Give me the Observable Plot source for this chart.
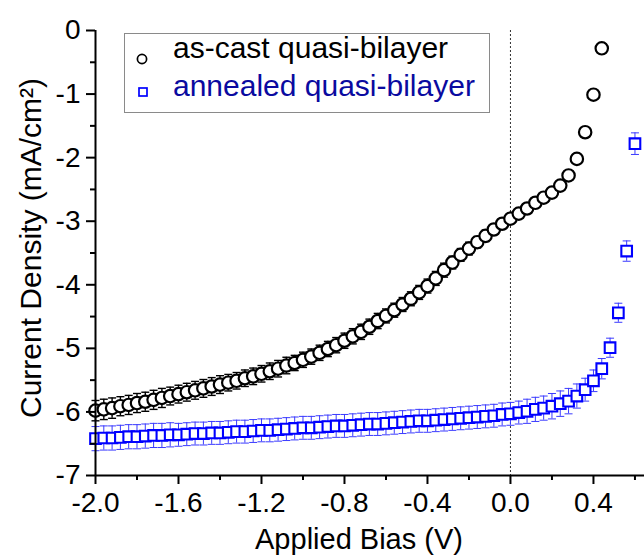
<!DOCTYPE html>
<html><head><meta charset="utf-8">
<script src="https://cdn.jsdelivr.net/npm/d3@7"></script>
<script src="https://cdn.jsdelivr.net/npm/@observablehq/plot@0.6"></script>
<style>
html,body{margin:0;padding:0;background:#fff;}
#wrap{position:relative;width:644px;height:556px;overflow:hidden;background:#fff;}
#wrap > svg{display:block;}
#legend{position:absolute;left:0;top:0;pointer-events:none;}
</style></head><body><div id="wrap"></div>
<script>
// ---- data ----
const seriesNames = ["as-cast quasi-bilayer", "annealed quasi-bilayer"];
const xTitle = "Applied Bias (V)";
const yTitle = "Current Density (mA/cm²)";

const xTicks = [-2.0, -1.6, -1.2, -0.8, -0.4, 0.0, 0.4];
const xMinorTicks = [-1.8, -1.4, -1.0, -0.6, -0.2, 0.2, 0.6];
const yTicks = [0, -1, -2, -3, -4, -5, -6, -7];
const yMinorTicks = [-0.5, -1.5, -2.5, -3.5, -4.5, -5.5, -6.5];
const xDomain = [-2.0, 0.646];
const yDomain = [-7, 0];

const asCastBias = [-2.00,-1.96,-1.92,-1.88,-1.84,-1.80,-1.76,-1.72,-1.68,-1.64,-1.60,-1.56,-1.52,-1.48,-1.44,-1.40,-1.36,-1.32,-1.28,-1.24,-1.20,-1.16,-1.12,-1.08,-1.04,-1.00,-0.96,-0.92,-0.88,-0.84,-0.80,-0.76,-0.72,-0.68,-0.64,-0.60,-0.56,-0.52,-0.48,-0.44,-0.40,-0.36,-0.32,-0.28,-0.24,-0.20,-0.16,-0.12,-0.08,-0.04,0.00,0.04,0.08,0.12,0.16,0.20,0.24,0.28,0.32,0.36,0.40,0.44];
const asCastJ = [-5.98,-5.96,-5.94,-5.91,-5.89,-5.86,-5.84,-5.81,-5.78,-5.75,-5.72,-5.69,-5.66,-5.63,-5.60,-5.57,-5.54,-5.51,-5.47,-5.44,-5.40,-5.36,-5.32,-5.27,-5.23,-5.18,-5.13,-5.07,-5.01,-4.95,-4.88,-4.81,-4.74,-4.66,-4.57,-4.49,-4.40,-4.31,-4.22,-4.12,-4.02,-3.90,-3.77,-3.65,-3.53,-3.43,-3.33,-3.23,-3.13,-3.04,-2.96,-2.88,-2.80,-2.71,-2.63,-2.55,-2.44,-2.28,-2.02,-1.60,-1.01,-0.28];
const asCastErr = [0.16,0.16,0.16,0.15,0.15,0.15,0.15,0.15,0.15,0.14,0.14,0.14,0.14,0.14,0.14,0.14,0.13,0.13,0.13,0.13,0.13,0.13,0.13,0.13,0.12,0.12,0.12,0.12,0.12,0.12,0.12,0.12,0.12,0.12,0.12,0.11,0.11,0.11,0.11,0.11,0.11,0.11,0.11,0.10,0.10,0.10,0.09,0.09,0.08,0.08,0.08,0.07,0.07,0.07,0.06,0.06,0.06,0.06,0.06,0.06,0.06,0.06];

const annealedBias = [-2.00,-1.96,-1.92,-1.88,-1.84,-1.80,-1.76,-1.72,-1.68,-1.64,-1.60,-1.56,-1.52,-1.48,-1.44,-1.40,-1.36,-1.32,-1.28,-1.24,-1.20,-1.16,-1.12,-1.08,-1.04,-1.00,-0.96,-0.92,-0.88,-0.84,-0.80,-0.76,-0.72,-0.68,-0.64,-0.60,-0.56,-0.52,-0.48,-0.44,-0.40,-0.36,-0.32,-0.28,-0.24,-0.20,-0.16,-0.12,-0.08,-0.04,0.00,0.04,0.08,0.12,0.16,0.20,0.24,0.28,0.32,0.36,0.40,0.44,0.48,0.52,0.56,0.60];
const annealedJ = [-6.42,-6.41,-6.41,-6.40,-6.39,-6.39,-6.38,-6.37,-6.37,-6.36,-6.36,-6.35,-6.34,-6.34,-6.33,-6.33,-6.32,-6.31,-6.31,-6.30,-6.29,-6.29,-6.28,-6.27,-6.26,-6.25,-6.25,-6.24,-6.23,-6.22,-6.22,-6.21,-6.20,-6.19,-6.19,-6.18,-6.17,-6.16,-6.15,-6.14,-6.14,-6.13,-6.12,-6.11,-6.10,-6.09,-6.08,-6.07,-6.06,-6.04,-6.03,-6.01,-5.99,-5.96,-5.94,-5.91,-5.87,-5.83,-5.75,-5.65,-5.51,-5.32,-4.99,-4.44,-3.47,-1.78];
const annealedErr = [0.19,0.19,0.19,0.19,0.19,0.19,0.19,0.19,0.19,0.19,0.18,0.18,0.18,0.18,0.18,0.18,0.18,0.18,0.18,0.18,0.18,0.18,0.18,0.18,0.18,0.18,0.18,0.18,0.18,0.18,0.18,0.18,0.18,0.18,0.18,0.18,0.18,0.18,0.18,0.18,0.18,0.18,0.18,0.18,0.18,0.18,0.18,0.18,0.18,0.18,0.18,0.18,0.19,0.19,0.19,0.20,0.20,0.20,0.19,0.18,0.17,0.16,0.15,0.15,0.16,0.17];

// ---- build tables ----
const asCast = asCastBias.map((v, i) => ({v, j: asCastJ[i], e: asCastErr[i]}));
const annealed = annealedBias.map((v, i) => ({v, j: annealedJ[i], e: annealedErr[i]}));

const FONT = "'Liberation Sans', Arial, Helvetica, sans-serif";
const blue = "#0000ff";
const errBlue = "#3a3aff";
const capSymbol = {draw(ctx) { ctx.moveTo(-4, 0); ctx.lineTo(4, 0); }};

const errMarks = (data, color, w) => [
  Plot.ruleX(data, {x: "v", y1: d => d.j - d.e, y2: d => d.j + d.e, stroke: color, strokeWidth: w}),
  Plot.dot(data, {x: "v", y: d => d.j + d.e, symbol: capSymbol, r: 4, stroke: color, fill: "none", strokeWidth: w}),
  Plot.dot(data, {x: "v", y: d => d.j - d.e, symbol: capSymbol, r: 4, stroke: color, fill: "none", strokeWidth: w})
];

const chart = Plot.plot({
  width: 644, height: 556,
  marginLeft: 95, marginRight: 0, marginTop: 30, marginBottom: 81,
  style: {fontFamily: FONT, fontSize: "28px", background: "white", color: "black", overflow: "visible"},
  x: {domain: xDomain},
  y: {domain: yDomain},
  marks: [
    Plot.ruleX([0], {stroke: "#333", strokeDasharray: "2,2", strokeWidth: 1}),
    ...errMarks(annealed, errBlue, 1),
    Plot.dot(annealed, {x: "v", y: "j", symbol: "square", r: 6.0, stroke: blue, fill: "white", strokeWidth: 2.1}),
    ...errMarks(asCast, "black", 1.4),
    Plot.dot(asCast, {x: "v", y: "j", symbol: "circle", r: 6.2, stroke: "black", fill: "white", strokeWidth: 2.2}),
    Plot.ruleX([xDomain[0]], {stroke: "black", strokeWidth: 2}),
    Plot.ruleY([yDomain[0]], {stroke: "black", strokeWidth: 2}),
    Plot.axisX(xTicks, {tickSize: 9, tickPadding: 8, strokeWidth: 2, tickFormat: d => d.toFixed(1), label: null, fontSize: 28}),
    Plot.axisX(xMinorTicks, {tickSize: 5, strokeWidth: 2, text: null, label: null}),
    Plot.axisY(yTicks, {tickSize: 9, tickPadding: 6, strokeWidth: 2, tickFormat: d => String(d), label: null, fontSize: 28}),
    Plot.axisY(yMinorTicks, {tickSize: 5, strokeWidth: 2, text: null, label: null}),
    Plot.text([xTitle], {text: d => d, frameAnchor: "bottom", textAnchor: "middle", dy: 73, dx: -11, fontSize: 29, fill: "black"}),
    Plot.text([yTitle], {text: d => d, frameAnchor: "left", textAnchor: "middle", rotate: -90, dx: -64, dy: -5, fontSize: 30, fill: "black"})
  ]
});
const wrap = document.getElementById("wrap");
wrap.appendChild(chart);

// ---- legend (inside the plot area, top-left) ----
const ns = "http://www.w3.org/2000/svg";
const lg = document.createElementNS(ns, "svg");
lg.setAttribute("id", "legend");
lg.setAttribute("width", 644);
lg.setAttribute("height", 556);
lg.innerHTML = `
  <rect x="124.5" y="33.5" width="365" height="79" fill="white" stroke="#8a8a8a" stroke-width="1"/>
  <circle cx="142" cy="59" r="4.6" fill="white" stroke="black" stroke-width="1.7"/>
  <rect x="139" y="88" width="8" height="8" fill="white" stroke="${blue}" stroke-width="1.7"/>
  <text x="173" y="58" font-family="${FONT.replace(/'/g, "&apos;")}" font-size="30" fill="black">${seriesNames[0]}</text>
  <text x="173" y="96" font-family="${FONT.replace(/'/g, "&apos;")}" font-size="30" fill="#0a0aa0">${seriesNames[1]}</text>
`;
wrap.appendChild(lg);
</script></body></html>
